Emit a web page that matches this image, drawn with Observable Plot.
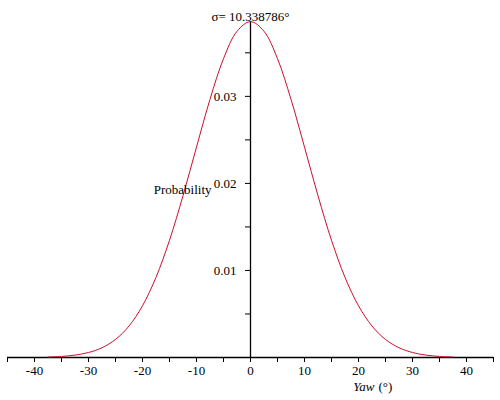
<!DOCTYPE html>
<html><head><meta charset="utf-8">
<script src="https://cdn.jsdelivr.net/npm/d3@7"></script>
<script src="https://cdn.jsdelivr.net/npm/@observablehq/plot@0.6"></script>
<style>body{margin:0;background:#fff} svg{display:block}</style>
</head><body><div id="chart"></div>
<script>
const yawDeg = [-37.5,-35,-32.5,-30,-27.5,-25,-22.5,-20,-17.5,-15,-12.5,-10,-7.5,-5,-2.5,0,2.5,5,7.5,10,12.5,15,17.5,20,22.5,25,27.5,30,32.5,35,37.5];
const probability = [0.0000537,0.000125,0.000276,0.000573,0.001123,0.002074,0.003614,0.005941,0.009211,0.013469,0.018579,0.024170,0.029659,0.034328,0.037474,0.038586,0.037474,0.034328,0.029659,0.024170,0.018579,0.013469,0.009211,0.005941,0.003614,0.002074,0.001123,0.000573,0.000276,0.000125,0.0000537];
const xMajorTicks = [-40,-30,-20,-10,0,10,20,30,40];
const xMinorTicks = [-45,-35,-25,-15,-5,5,15,25,35,45];
const yMajorTicks = [0.01,0.02,0.03];
const yMinorTicks = [0.005,0.015,0.025,0.035];
const xDomain = [-45,45];
const yDomain = [0,0.0386];
const titleText = "σ= 10.338786°";
const yLabelText = "Probability";
const xLabelMain = "Yaw";
const xLabelUnit = "(°)";

const data = yawDeg.map((x,i)=>({x, y: probability[i]}));
const curveColor = "#c8102e";

const plot = Plot.plot({
  width: 500, height: 400,
  marginLeft: 7, marginRight: 7, marginTop: 21, marginBottom: 43,
  style: {fontFamily: "'Liberation Serif', 'Times New Roman', serif", fontSize: "13px", background: "#fff", color: "#000"},
  x: {domain: xDomain, axis: null},
  y: {domain: yDomain, axis: null},
  marks: [
    Plot.axisX(xMajorTicks, {anchor: "bottom", tickSize: 5, tickPadding: 3, tickFormat: d => String(d), label: null, stroke: "#000"}),
    Plot.axisX(xMinorTicks, {anchor: "bottom", tickSize: 5, tickFormat: () => "", label: null, stroke: "#000"}),
    Plot.axisY(yMajorTicks, {anchor: "left", dx: 243, tickSize: 5, tickPadding: 9, tickFormat: d => String(d), label: null, stroke: "#000"}),
    Plot.axisY(yMinorTicks, {anchor: "left", dx: 243, tickSize: 5, tickFormat: () => "", label: null, stroke: "#000"}),
    Plot.ruleY([0], {x1: xDomain[0], x2: xDomain[1], stroke: "#000", strokeWidth: 1.3}),
    Plot.ruleX([0], {y1: yDomain[0], y2: yDomain[1], stroke: "#000", strokeWidth: 1.3}),
    Plot.line(data, {x: "x", y: "y", stroke: curveColor, strokeWidth: 1, curve: "catmull-rom"}),
    Plot.text([titleText], {x: () => 0, frameAnchor: "top", dy: -10, text: d => d, fill: "#000"}),
    Plot.text([yLabelText], {x: () => 0, frameAnchor: "middle", textAnchor: "end", dx: -39, text: d => d, fill: "#000"}),
    Plot.text([xLabelMain], {x: () => 20, frameAnchor: "bottom", textAnchor: "end", dx: 16, dy: 33, text: d => d, fontStyle: "italic", fill: "#000"}),
    Plot.text([xLabelUnit], {x: () => 20, frameAnchor: "bottom", textAnchor: "start", dx: 20, dy: 33, text: d => d, fill: "#000"})
  ]
});
document.getElementById("chart").append(plot);
</script>
</body></html>
